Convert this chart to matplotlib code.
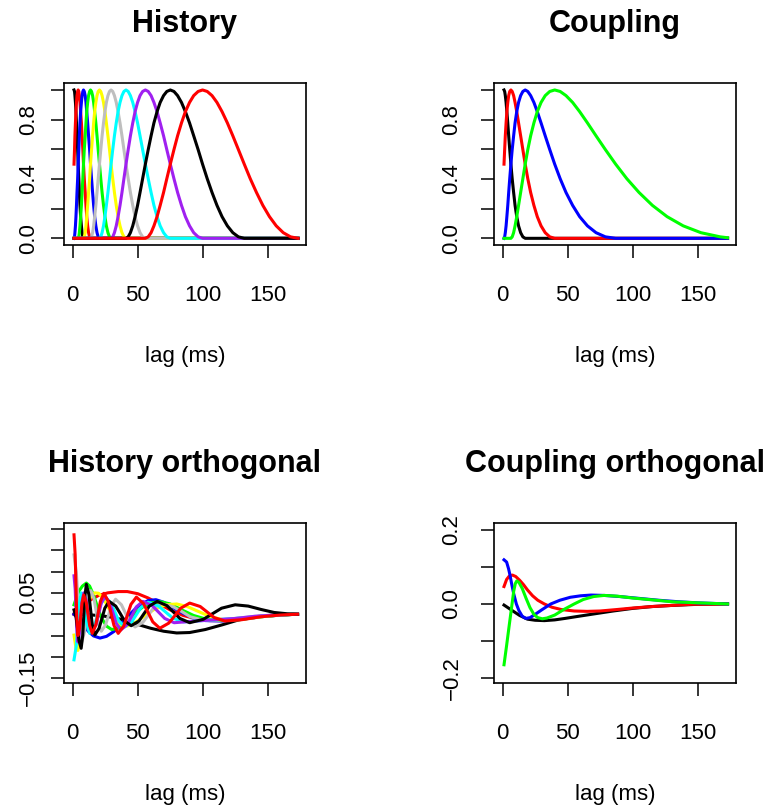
import matplotlib
matplotlib.use("Agg")
import matplotlib.pyplot as plt

plt.rcParams['font.family'] = ['Liberation Sans', 'DejaVu Sans']

# colours used by the R session (black, red, blue, green, yellow, gray, cyan, purple, ...)
colors = ['black', 'red', 'blue', '#00FF00', 'yellow', '#BEBEBE', 'cyan', '#A020F0', 'black', 'red']

# ---- History basis (lag grid in ms, one value per lag; rows of 8) ----
hist_lag = [1.0, 1.4, 1.7, 2.1, 2.5, 2.9, 3.3, 3.8,
            4.2, 4.7, 5.1, 5.6, 6.1, 6.7, 7.2, 7.8,
            8.3, 8.9, 9.6, 10.2, 10.8, 11.5, 12.2, 13.0,
            13.7, 14.5, 15.3, 16.1, 16.9, 17.8, 18.7, 19.6,
            20.6, 21.6, 22.6, 23.7, 24.8, 25.9, 27.1, 28.3,
            29.5, 30.8, 32.1, 33.5, 34.9, 36.4, 37.9, 39.4,
            41.0, 42.7, 44.4, 46.2, 48.0, 49.9, 51.8, 53.8,
            55.9, 58.1, 60.3, 62.5, 64.9, 67.3, 69.9, 72.4,
            75.1, 77.9, 80.7, 83.7, 86.7, 89.9, 93.1, 96.5,
            99.9, 103.5, 107.2, 111.0, 114.9, 119.0, 123.2, 127.5,
            132.0, 136.6, 141.4, 146.3, 151.4, 156.6, 162.0, 167.6,
            173.4]
hist_1 = [1, .990, .962, .916, .854, .778, .691, .598,
          .5, .402, .309, .222, .146, .084, .038, .010,
          0, 0, 0, 0, 0, 0, 0, 0,
          0, 0, 0, 0, 0, 0, 0, 0,
          0, 0, 0, 0, 0, 0, 0, 0,
          0, 0, 0, 0, 0, 0, 0, 0,
          0, 0, 0, 0, 0, 0, 0, 0,
          0, 0, 0, 0, 0, 0, 0, 0,
          0, 0, 0, 0, 0, 0, 0, 0,
          0, 0, 0, 0, 0, 0, 0, 0,
          0, 0, 0, 0, 0, 0, 0, 0,
          0]
hist_2 = [.5, .598, .691, .778, .854, .916, .962, .990,
          1, .990, .962, .916, .854, .778, .691, .598,
          .5, .402, .309, .222, .146, .084, .038, .010,
          0, 0, 0, 0, 0, 0, 0, 0,
          0, 0, 0, 0, 0, 0, 0, 0,
          0, 0, 0, 0, 0, 0, 0, 0,
          0, 0, 0, 0, 0, 0, 0, 0,
          0, 0, 0, 0, 0, 0, 0, 0,
          0, 0, 0, 0, 0, 0, 0, 0,
          0, 0, 0, 0, 0, 0, 0, 0,
          0, 0, 0, 0, 0, 0, 0, 0,
          0]
hist_3 = [0, .010, .038, .084, .146, .222, .309, .402,
          .5, .598, .691, .778, .854, .916, .962, .990,
          1, .990, .962, .916, .854, .778, .691, .598,
          .5, .402, .309, .222, .146, .084, .038, .010,
          0, 0, 0, 0, 0, 0, 0, 0,
          0, 0, 0, 0, 0, 0, 0, 0,
          0, 0, 0, 0, 0, 0, 0, 0,
          0, 0, 0, 0, 0, 0, 0, 0,
          0, 0, 0, 0, 0, 0, 0, 0,
          0, 0, 0, 0, 0, 0, 0, 0,
          0, 0, 0, 0, 0, 0, 0, 0,
          0]
hist_4 = [0, 0, 0, 0, 0, 0, 0, 0,
          0, .010, .038, .084, .146, .222, .309, .402,
          .5, .598, .691, .778, .854, .916, .962, .990,
          1, .990, .962, .916, .854, .778, .691, .598,
          .5, .402, .309, .222, .146, .084, .038, .010,
          0, 0, 0, 0, 0, 0, 0, 0,
          0, 0, 0, 0, 0, 0, 0, 0,
          0, 0, 0, 0, 0, 0, 0, 0,
          0, 0, 0, 0, 0, 0, 0, 0,
          0, 0, 0, 0, 0, 0, 0, 0,
          0, 0, 0, 0, 0, 0, 0, 0,
          0]
hist_5 = [0, 0, 0, 0, 0, 0, 0, 0,
          0, 0, 0, 0, 0, 0, 0, 0,
          0, .010, .038, .084, .146, .222, .309, .402,
          .5, .598, .691, .778, .854, .916, .962, .990,
          1, .990, .962, .916, .854, .778, .691, .598,
          .5, .402, .309, .222, .146, .084, .038, .010,
          0, 0, 0, 0, 0, 0, 0, 0,
          0, 0, 0, 0, 0, 0, 0, 0,
          0, 0, 0, 0, 0, 0, 0, 0,
          0, 0, 0, 0, 0, 0, 0, 0,
          0, 0, 0, 0, 0, 0, 0, 0,
          0]
hist_6 = [0, 0, 0, 0, 0, 0, 0, 0,
          0, 0, 0, 0, 0, 0, 0, 0,
          0, 0, 0, 0, 0, 0, 0, 0,
          0, .010, .038, .084, .146, .222, .309, .402,
          .5, .598, .691, .778, .854, .916, .962, .990,
          1, .990, .962, .916, .854, .778, .691, .598,
          .5, .402, .309, .222, .146, .084, .038, .010,
          0, 0, 0, 0, 0, 0, 0, 0,
          0, 0, 0, 0, 0, 0, 0, 0,
          0, 0, 0, 0, 0, 0, 0, 0,
          0, 0, 0, 0, 0, 0, 0, 0,
          0]
hist_7 = [0, 0, 0, 0, 0, 0, 0, 0,
          0, 0, 0, 0, 0, 0, 0, 0,
          0, 0, 0, 0, 0, 0, 0, 0,
          0, 0, 0, 0, 0, 0, 0, 0,
          0, .010, .038, .084, .146, .222, .309, .402,
          .5, .598, .691, .778, .854, .916, .962, .990,
          1, .990, .962, .916, .854, .778, .691, .598,
          .5, .402, .309, .222, .146, .084, .038, .010,
          0, 0, 0, 0, 0, 0, 0, 0,
          0, 0, 0, 0, 0, 0, 0, 0,
          0, 0, 0, 0, 0, 0, 0, 0,
          0]
hist_8 = [0, 0, 0, 0, 0, 0, 0, 0,
          0, 0, 0, 0, 0, 0, 0, 0,
          0, 0, 0, 0, 0, 0, 0, 0,
          0, 0, 0, 0, 0, 0, 0, 0,
          0, 0, 0, 0, 0, 0, 0, 0,
          0, .010, .038, .084, .146, .222, .309, .402,
          .5, .598, .691, .778, .854, .916, .962, .990,
          1, .990, .962, .916, .854, .778, .691, .598,
          .5, .402, .309, .222, .146, .084, .038, .010,
          0, 0, 0, 0, 0, 0, 0, 0,
          0, 0, 0, 0, 0, 0, 0, 0,
          0]
hist_9 = [0, 0, 0, 0, 0, 0, 0, 0,
          0, 0, 0, 0, 0, 0, 0, 0,
          0, 0, 0, 0, 0, 0, 0, 0,
          0, 0, 0, 0, 0, 0, 0, 0,
          0, 0, 0, 0, 0, 0, 0, 0,
          0, 0, 0, 0, 0, 0, 0, 0,
          0, .010, .038, .084, .146, .222, .309, .402,
          .5, .598, .691, .778, .854, .916, .962, .990,
          1, .990, .962, .916, .854, .778, .691, .598,
          .5, .402, .309, .222, .146, .084, .038, .010,
          0, 0, 0, 0, 0, 0, 0, 0,
          0]
hist_10 = [0, 0, 0, 0, 0, 0, 0, 0,
           0, 0, 0, 0, 0, 0, 0, 0,
           0, 0, 0, 0, 0, 0, 0, 0,
           0, 0, 0, 0, 0, 0, 0, 0,
           0, 0, 0, 0, 0, 0, 0, 0,
           0, 0, 0, 0, 0, 0, 0, 0,
           0, 0, 0, 0, 0, 0, 0, 0,
           0, .010, .038, .084, .146, .222, .309, .402,
           .5, .598, .691, .778, .854, .916, .962, .990,
           1, .990, .962, .916, .854, .778, .691, .598,
           .5, .402, .309, .222, .146, .084, .038, .010,
           0]
history = [hist_1, hist_2, hist_3, hist_4, hist_5, hist_6, hist_7, hist_8, hist_9, hist_10]

# ---- Coupling basis ----
coup_lag = [1.0, 1.5, 2.0, 2.6, 3.2, 3.9, 4.6, 5.4, 6.3, 7.3, 8.4, 9.5, 10.8, 12.2, 13.8,
            15.5, 17.3, 19.3, 21.5, 24.0, 26.6, 29.5, 32.7, 36.2, 40.0, 44.2, 48.7, 53.8,
            59.2, 65.2, 71.8, 79.0, 86.9, 95.5, 104.9, 115.2, 126.5, 138.9, 152.5, 167.3,
            173.0]
coup_1 = [1, .990, .962, .916, .854, .778, .691, .598, .5, .402, .309, .222, .146, .084,
          .038, .010, 0, 0, 0, 0, 0, 0, 0, 0, 0, 0, 0, 0, 0, 0, 0, 0, 0, 0, 0, 0, 0, 0, 0,
          0, 0]
coup_2 = [.5, .598, .691, .778, .854, .916, .962, .990, 1, .990, .962, .916, .854, .778,
          .691, .598, .5, .402, .309, .222, .146, .084, .038, .010, 0, 0, 0, 0, 0, 0, 0,
          0, 0, 0, 0, 0, 0, 0, 0, 0, 0]
coup_3 = [0, .010, .038, .084, .146, .222, .309, .402, .5, .598, .691, .778, .854, .916,
          .962, .990, 1, .990, .962, .916, .854, .778, .691, .598, .5, .402, .309, .222,
          .146, .084, .038, .010, 0, 0, 0, 0, 0, 0, 0, 0, 0]
coup_4 = [0, 0, 0, 0, 0, 0, 0, 0, 0, .010, .038, .084, .146, .222, .309, .402, .5, .598,
          .691, .778, .854, .916, .962, .990, 1, .990, .962, .916, .854, .778, .691, .598,
          .5, .402, .309, .222, .146, .084, .038, .010, .004]
coupling = [coup_1, coup_2, coup_3, coup_4]

# ---- History orthogonal (lag, value) per curve ----
ho_x1 = [1, 10, 20, 30, 40, 50, 60, 70, 80, 90, 102, 115, 127, 140, 155, 173]
ho_y1 = [0.000, -0.001, -0.003, -0.007, -0.014, -0.024, -0.033, -0.040, -0.044, -0.043,
         -0.036, -0.025, -0.014, -0.006, -0.002, 0.000]
ho_x2 = [1, 5, 10, 15, 20, 27, 35, 42, 50, 58, 66, 75, 85, 95, 105, 118, 130, 145, 160, 173]
ho_y2 = [0.0, 0.012, 0.025, 0.036, 0.044, 0.050, 0.053, 0.053, 0.048, 0.038, 0.025, 0.010,
         -0.003, -0.011, -0.015, -0.015, -0.011, -0.005, -0.002, 0.0]
ho_x3 = [1, 4, 8, 12, 16, 21, 26, 32, 38, 44, 50, 58, 64, 70, 78, 85, 93, 102, 115, 130,
         145, 160, 173]
ho_y3 = [0.000, -0.010, -0.025, -0.040, -0.051, -0.056, -0.052, -0.040, -0.020, 0.000,
         0.018, 0.032, 0.034, 0.028, 0.014, 0.002, -0.009, -0.015, -0.016, -0.012, -0.006,
         -0.002, 0.000]
ho_x4 = [1, 3, 5, 7.5, 10.5, 13, 16, 19, 22, 26, 30, 35, 41, 47, 54, 61, 68, 75, 84, 93,
         103, 115, 130, 145, 160, 173]
ho_y4 = [0.022, 0.040, 0.055, 0.066, 0.073, 0.066, 0.045, 0.018, -0.008, -0.028, -0.036,
         -0.033, -0.018, 0.0, 0.017, 0.027, 0.029, 0.024, 0.010, -0.003, -0.012, -0.015,
         -0.012, -0.006, -0.002, 0.0]
ho_x5 = [1, 2.5, 4, 6, 8, 11, 14, 17, 20, 24, 28, 32, 37, 42, 48, 55, 63, 72, 80, 88, 97,
         106, 116, 128, 142, 158, 173]
ho_y5 = [-0.049, -0.080, -0.085, -0.060, -0.020, 0.020, 0.042, 0.050, 0.049, 0.035, 0.012,
         -0.010, -0.025, -0.028, -0.020, -0.005, 0.012, 0.022, 0.024, 0.018, 0.006, -0.006,
         -0.013, -0.013, -0.007, -0.002, 0.000]
ho_x6 = [1, 2.8, 4, 5.2, 7, 9.1, 10.5, 11.9, 14, 16.4, 18, 19.6, 22, 25.3, 27.5, 29.7, 33,
         37.5, 40.5, 43.5, 48, 54, 58, 62, 68, 77.6, 84, 90.4, 100, 112, 125, 140, 155, 173]
ho_y6 = [.139, .098, .037, -.024, -.065, -.041, -.005, .031, .055, .036, .008, -.021, -.040,
         -.025, -.003, .020, .035, .022, .003, -.017, -.030, -.019, -.003, .014, .025, .017,
         .006, -.006, -.014, -.014, -.010, -.005, -.002, 0]
ho_x7 = [1, 2.65, 3.75, 4.85, 6.5, 8.45, 9.75, 11.05, 13, 16.6, 19, 21.4, 25, 29.5, 32.5,
         35.5, 40, 45.4, 49, 52.6, 58, 66.1, 71.5, 76.9, 85, 105, 125, 145, 160, 173]
ho_y7 = [-0.107, -0.076, -0.029, 0.019, 0.050, 0.031, 0.003, -0.026, -0.045, -0.028, -0.003,
         0.023, 0.040, 0.026, 0.005, -0.016, -0.030, -0.018, -0.001, 0.016, 0.028, 0.019,
         0.005, -0.009, -0.018, -0.014, -0.010, -0.005, -0.002, 0.000]
ho_x8 = [1, 1.9, 2.5, 3.1, 4, 5.35, 6.25, 7.15, 8.5, 10.45, 11.75, 13.05, 15, 18, 20, 22,
         25, 28.6, 31, 33.4, 37, 42.1, 45.5, 48.9, 54, 61.2, 66, 70.8, 78, 95, 110, 125,
         140, 155, 173]
ho_y8 = [0.090, 0.059, 0.013, -0.034, -0.065, -0.042, -0.008, 0.027, 0.050, 0.032, 0.005,
         -0.022, -0.040, -0.024, 0.001, 0.026, 0.042, 0.026, 0.003, -0.021, -0.037, -0.024,
         -0.004, 0.017, 0.030, 0.020, 0.005, -0.010, -0.020, -0.016, -0.013, -0.010, -0.005,
         -0.002, 0.000]
ho_x9 = [1, 2.65, 3.75, 4.85, 6.5, 7.7, 8.5, 9.3, 10.5, 12.45, 13.75, 15.05, 17, 20.3, 22.5,
         24.7, 28, 33.1, 36.5, 39.9, 45, 51, 55, 59, 65, 72.5, 77.5, 82.5, 90, 100.5, 107.5,
         114.5, 125, 135, 145, 155, 165, 173]
ho_y9 = [0.010, -0.008, -0.035, -0.062, -0.080, -0.050, -0.005, 0.040, 0.070, 0.046, 0.011,
         -0.025, -0.049, -0.033, -0.010, 0.014, 0.030, 0.019, 0.002, -0.016, -0.027, -0.016,
         0.002, 0.019, 0.030, 0.020, 0.005, -0.010, -0.020, -0.012, 0.001, 0.014, 0.022,
         0.019, 0.011, 0.004, 0.001, 0.000]
ho_x10 = [1, 1.9, 2.5, 3.1, 4, 5.35, 6.25, 7.15, 8.5, 10.45, 11.75, 13.05, 15, 17.7, 19.5,
          21.3, 24, 27.3, 29.5, 31.7, 35, 39.2, 42, 44.8, 49, 54.4, 58, 61.6, 67, 73.9, 78.5,
          83.1, 90, 98.1, 103.5, 108.9, 117, 130, 145, 160, 173]
ho_y10 = [0.186, 0.139, 0.068, -0.003, -0.050, -0.031, -0.003, 0.026, 0.045, 0.027, 0.000,
          -0.027, -0.045, -0.026, 0.002, 0.030, 0.049, 0.030, 0.002, -0.026, -0.045, -0.028,
          -0.003, 0.023, 0.040, 0.025, 0.004, -0.018, -0.033, -0.021, -0.004, 0.014, 0.026,
          0.018, 0.005, -0.008, -0.016, -0.013, -0.006, -0.002, 0.000]
hist_orth = [(ho_x1, ho_y1), (ho_x2, ho_y2), (ho_x3, ho_y3), (ho_x4, ho_y4), (ho_x5, ho_y5),
             (ho_x6, ho_y6), (ho_x7, ho_y7), (ho_x8, ho_y8), (ho_x9, ho_y9), (ho_x10, ho_y10)]

# ---- Coupling orthogonal ----
co_x1 = [1, 4, 8.7, 13, 19, 25, 32, 40, 48, 57, 70, 85, 100, 115, 130, 150, 173]
co_y1 = [-0.003, -0.010, -0.021, -0.031, -0.041, -0.044, -0.045, -0.043, -0.039, -0.034,
         -0.027, -0.019, -0.012, -0.007, -0.004, -0.001, 0.0]
co_x2 = [1, 3, 5, 7.4, 10, 13, 16, 19, 23, 27, 32, 38, 45, 55, 65, 75, 88, 100, 115, 130,
         145, 173]
co_y2 = [0.047, 0.066, 0.075, 0.078, 0.074, 0.064, 0.052, 0.038, 0.022, 0.010, 0.0, -0.009,
         -0.015, -0.019, -0.020, -0.019, -0.015, -0.011, -0.007, -0.004, -0.001, 0.0]
co_x3 = [1, 3, 4.5, 5.6, 7, 8.5, 10.5, 12.5, 15, 17.7, 21, 25, 30, 37, 44, 52, 60, 68, 78,
         90, 105, 120, 135, 150, 173]
co_y3 = [0.119, 0.113, 0.095, 0.078, 0.052, 0.027, 0.0, -0.018, -0.033, -0.039, -0.037,
         -0.028, -0.016, 0.0, 0.010, 0.018, 0.022, 0.024, 0.023, 0.020, 0.015, 0.010, 0.006,
         0.003, 0.0]
co_x4 = [1, 3, 5, 7, 8.5, 9.7, 10.8, 12.5, 15, 18, 21, 24, 27, 30.5, 34, 40, 47, 55, 62, 70,
         78, 88, 100, 115, 130, 150, 173]
co_y4 = [-0.164, -0.112, -0.058, -0.005, 0.035, 0.055, 0.062, 0.058, 0.042, 0.015, -0.010,
         -0.028, -0.037, -0.040, -0.038, -0.030, -0.015, 0.0, 0.012, 0.020, 0.023, 0.021,
         0.016, 0.011, 0.006, 0.003, 0.0]
coup_orth = [(co_x1, co_y1), (co_x2, co_y2), (co_x3, co_y3), (co_x4, co_y4)]

x_ticks = [0, 50, 100, 150]
W, H = 767, 806
fig = plt.figure(figsize=(W / 100, H / 100), dpi=100)


def panel(box, title, ylim, yticks, ylabels, ypad):
    left, top, right, bottom = box
    ax = fig.add_axes([left / W, 1 - bottom / H, (right - left) / W, (bottom - top) / H])
    ax.set_xlim(-6.7, 179.5)
    ax.set_ylim(*ylim)
    ax.set_xticks(x_ticks)
    ax.set_xticklabels([str(t) for t in x_ticks])
    ax.set_yticks(yticks)
    ax.set_yticklabels(ylabels, rotation=90, va='center')
    ax.tick_params(direction='out', length=9.6, width=1.1, labelsize=16)
    ax.tick_params(axis='x', pad=19)
    ax.tick_params(axis='y', pad=ypad)
    for s in ax.spines.values():
        s.set_linewidth(1.2)
    cx = (left + right) / 2 / W
    fig.text(cx, 1 - (top - 51) / H, title, ha='center', va='baseline',
             fontsize=22, fontweight='bold')
    fig.text(cx, 1 - (bottom + 117) / H, 'lag (ms)', ha='center', va='baseline', fontsize=16)
    return ax


lw = 2.2
ax1 = panel((64, 83.3, 306, 245), 'History', (-0.045, 1.045),
            [0, 0.2, 0.4, 0.6, 0.8, 1.0], ['0.0', '', '0.4', '', '0.8', ''], 8.6)
for ys, c in zip(history, colors):
    ax1.plot(hist_lag, ys, color=c, lw=lw)

ax2 = panel((494, 83.3, 736, 245), 'Coupling', (-0.045, 1.045),
            [0, 0.2, 0.4, 0.6, 0.8, 1.0], ['0.0', '', '0.4', '', '0.8', ''], 13)
for ys, c in zip(coupling, colors):
    ax2.plot(coup_lag, ys, color=c, lw=lw)

ax3 = panel((64, 523.3, 306, 683.3), 'History orthogonal', (-0.162, 0.213),
            [-0.15, -0.10, -0.05, 0.0, 0.05, 0.10, 0.15, 0.20],
            ['\u22120.15', '', '', '', '0.05', '', '', ''], 8.6)
for (xs, ys), c in zip(hist_orth, colors):
    ax3.plot(xs, ys, color=c, lw=lw)

ax4 = panel((494, 523.3, 736, 683.3), 'Coupling orthogonal', (-0.214, 0.2175),
            [-0.2, -0.1, 0.0, 0.1, 0.2], ['\u22120.2', '', '0.0', '', '0.2'], 13)
for (xs, ys), c in zip(coup_orth, colors):
    ax4.plot(xs, ys, color=c, lw=lw)

fig.savefig('out.png', dpi=100)
